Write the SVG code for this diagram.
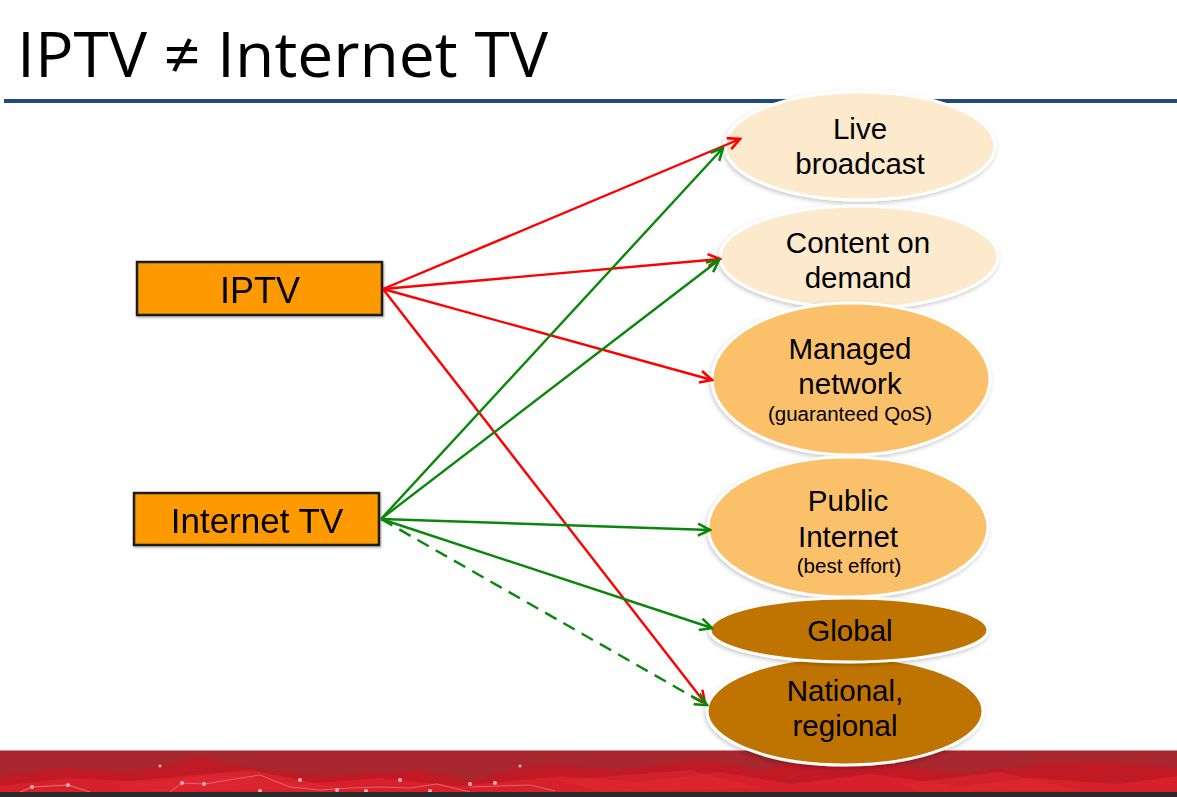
<svg xmlns="http://www.w3.org/2000/svg" width="1177" height="797" viewBox="0 0 1177 797">
  <style>
    .title { font-family: "Open Sans", "Noto Sans", sans-serif; font-size: 62px; fill: #000; }
    .box rect { fill: #FF9900; stroke: #1a1a1a; stroke-width: 2.5; }
    .box text { font-family: "Liberation Sans", Arial, sans-serif; fill: #000; text-anchor: middle; }
    .oval ellipse { stroke: #ffffff; stroke-width: 3; filter: url(#soft); }
    .oval text { font-family: "Liberation Sans", Arial, sans-serif; fill: #000; text-anchor: middle; font-size: 29.5px; }
    .oval text.small { font-size: 20.5px; }
    .light { fill: #FDE9CC; }
    .mid { fill: #FBC16B; }
    .dark { fill: #BF7300; }
    .red { stroke: #FF0000; stroke-width: 2.4; fill: none; marker-end: url(#headRed); }
    .green { stroke: #0A870A; stroke-width: 2.4; fill: none; marker-end: url(#headGreen); }
    .dash { stroke-dasharray: 13 8; }
  </style>
  <defs>
    <filter id="soft" x="-10%" y="-10%" width="120%" height="130%">
      <feDropShadow dx="-1" dy="2" stdDeviation="2" flood-color="#000" flood-opacity="0.22"/>
    </filter>
    <filter id="boxShadow" x="-5%" y="-10%" width="110%" height="130%">
      <feDropShadow dx="1" dy="1.5" stdDeviation="1.2" flood-color="#000" flood-opacity="0.3"/>
    </filter>
    <marker id="headRed" markerUnits="userSpaceOnUse" markerWidth="16" markerHeight="16" viewBox="0 0 16 16" refX="14" refY="8" orient="auto">
      <path d="M2,2 L14,8 L2,14" fill="none" stroke="#FF0000" stroke-width="2.6" stroke-linejoin="miter"/>
    </marker>
    <marker id="headGreen" markerUnits="userSpaceOnUse" markerWidth="16" markerHeight="16" viewBox="0 0 16 16" refX="14" refY="8" orient="auto">
      <path d="M2,2 L14,8 L2,14" fill="none" stroke="#0A870A" stroke-width="2.6" stroke-linejoin="miter"/>
    </marker>
  </defs>

  <rect x="0" y="0" width="1177" height="797" fill="#ffffff"/>

  <!-- heading and rule -->
  <text class="title" x="17" y="77" textLength="531" lengthAdjust="spacingAndGlyphs">IPTV ≠ Internet TV</text>
  <rect x="4" y="99" width="1173" height="4" fill="#22497E"/>

  <!-- footer band -->
  <g id="footer">
    <rect x="0" y="750" width="1177" height="42" fill="#A8262D"/>
    <line x1="0" y1="750.5" x2="1177" y2="750.5" stroke="#D88A8E" stroke-width="1"/>
    <polygon points="0,776 60,768 130,772 200,758 260,770 330,776 420,770 470,780 540,764 620,770 700,760 760,770 830,756 900,766 960,774 1040,764 1110,762 1177,768 1177,792 0,792" fill="#C01A24"/>
    <polygon points="0,786 70,778 150,782 220,774 300,784 380,778 460,786 560,776 640,782 720,772 790,784 870,774 960,786 1030,778 1120,784 1177,776 1177,792 0,792" fill="#D6202B"/>
    <polygon points="120,782 250,770 340,788 120,792" fill="#E02A34" opacity="0.6"/>
    <polygon points="560,780 690,770 760,788 600,792" fill="#E02A34" opacity="0.5"/>
    <polygon points="900,784 1000,772 1080,790 920,792" fill="#E02A34" opacity="0.5"/>
    <polyline points="20,792 32,787 68,785 90,792" fill="none" stroke="#F08A90" stroke-width="0.8"/>
    <polyline points="170,792 182,783 204,784 260,775 290,787 320,790 350,788 380,787 410,788 437,784 470,792" fill="none" stroke="#F08A90" stroke-width="0.8" opacity="0.8"/>
    <polyline points="470,787 530,785 555,791" fill="none" stroke="#F08A90" stroke-width="0.8" opacity="0.8"/>
    <g fill="#F6B0B4">
      <circle cx="32" cy="787" r="2"/>
      <circle cx="68" cy="785" r="2"/>
      <circle cx="182" cy="783" r="2"/>
      <circle cx="204" cy="784" r="2"/>
      <circle cx="260" cy="791" r="2"/>
      <circle cx="300" cy="780" r="2"/>
      <circle cx="337" cy="790" r="2"/>
      <circle cx="366" cy="791" r="2"/>
      <circle cx="400" cy="780" r="2"/>
      <circle cx="430" cy="791" r="2"/>
      <circle cx="470" cy="784" r="2"/>
      <circle cx="495" cy="783" r="2"/>
      <circle cx="160" cy="766" r="1.5"/>
      <circle cx="520" cy="766" r="1.5"/>
    </g>
    <rect x="0" y="792" width="1177" height="5" fill="#2A2A2A"/>
  </g>

  <!-- left nodes -->
  <g id="iptv" class="box" filter="url(#boxShadow)">
    <rect x="137" y="262" width="245" height="53"/>
    <text x="260" y="303" font-size="36">IPTV</text>
  </g>
  <g id="internet-tv" class="box" filter="url(#boxShadow)">
    <rect x="134" y="493" width="245" height="52"/>
    <text x="257" y="533" font-size="35">Internet TV</text>
  </g>

  <!-- right nodes -->
  <g id="live-broadcast" class="oval">
    <ellipse class="light" cx="860" cy="146" rx="135" ry="54"/>
    <text x="860" y="139">Live</text>
    <text x="860" y="174">broadcast</text>
  </g>
  <g id="content-on-demand" class="oval">
    <ellipse class="light" cx="859" cy="257" rx="139" ry="51"/>
    <text x="858" y="253">Content on</text>
    <text x="858" y="288">demand</text>
  </g>
  <g id="managed-network" class="oval">
    <ellipse class="mid" cx="851" cy="379" rx="139" ry="76"/>
    <text x="850" y="359">Managed</text>
    <text x="850" y="394">network</text>
    <text class="small" x="850" y="421">(guaranteed QoS)</text>
  </g>
  <g id="public-internet" class="oval">
    <ellipse class="mid" cx="848" cy="527" rx="140" ry="70"/>
    <text x="848" y="511">Public</text>
    <text x="848" y="547">Internet</text>
    <text class="small" x="849" y="573">(best effort)</text>
  </g>
  <g id="national-regional" class="oval">
    <ellipse class="dark" cx="845" cy="711" rx="138" ry="54"/>
    <text x="845" y="701">National,</text>
    <text x="845" y="736">regional</text>
  </g>
  <g id="global" class="oval">
    <ellipse class="dark" cx="849" cy="630" rx="139" ry="32"/>
    <text x="850" y="641">Global</text>
  </g>

  <!-- connectors -->
  <g id="connectors">
    <line class="red" x1="383" y1="289" x2="740" y2="139"/>
    <line class="red" x1="383" y1="289" x2="720" y2="259"/>
    <line class="red" x1="383" y1="289" x2="712" y2="380"/>
    <line class="red" x1="383" y1="289" x2="705" y2="703"/>
    <line class="green" x1="381" y1="519" x2="723" y2="148"/>
    <line class="green" x1="381" y1="519" x2="719" y2="260"/>
    <line class="green" x1="381" y1="519" x2="710" y2="530"/>
    <line class="green" x1="381" y1="519" x2="712" y2="628"/>
    <line class="green dash" x1="381" y1="519" x2="707" y2="705"/>
  </g>
</svg>
